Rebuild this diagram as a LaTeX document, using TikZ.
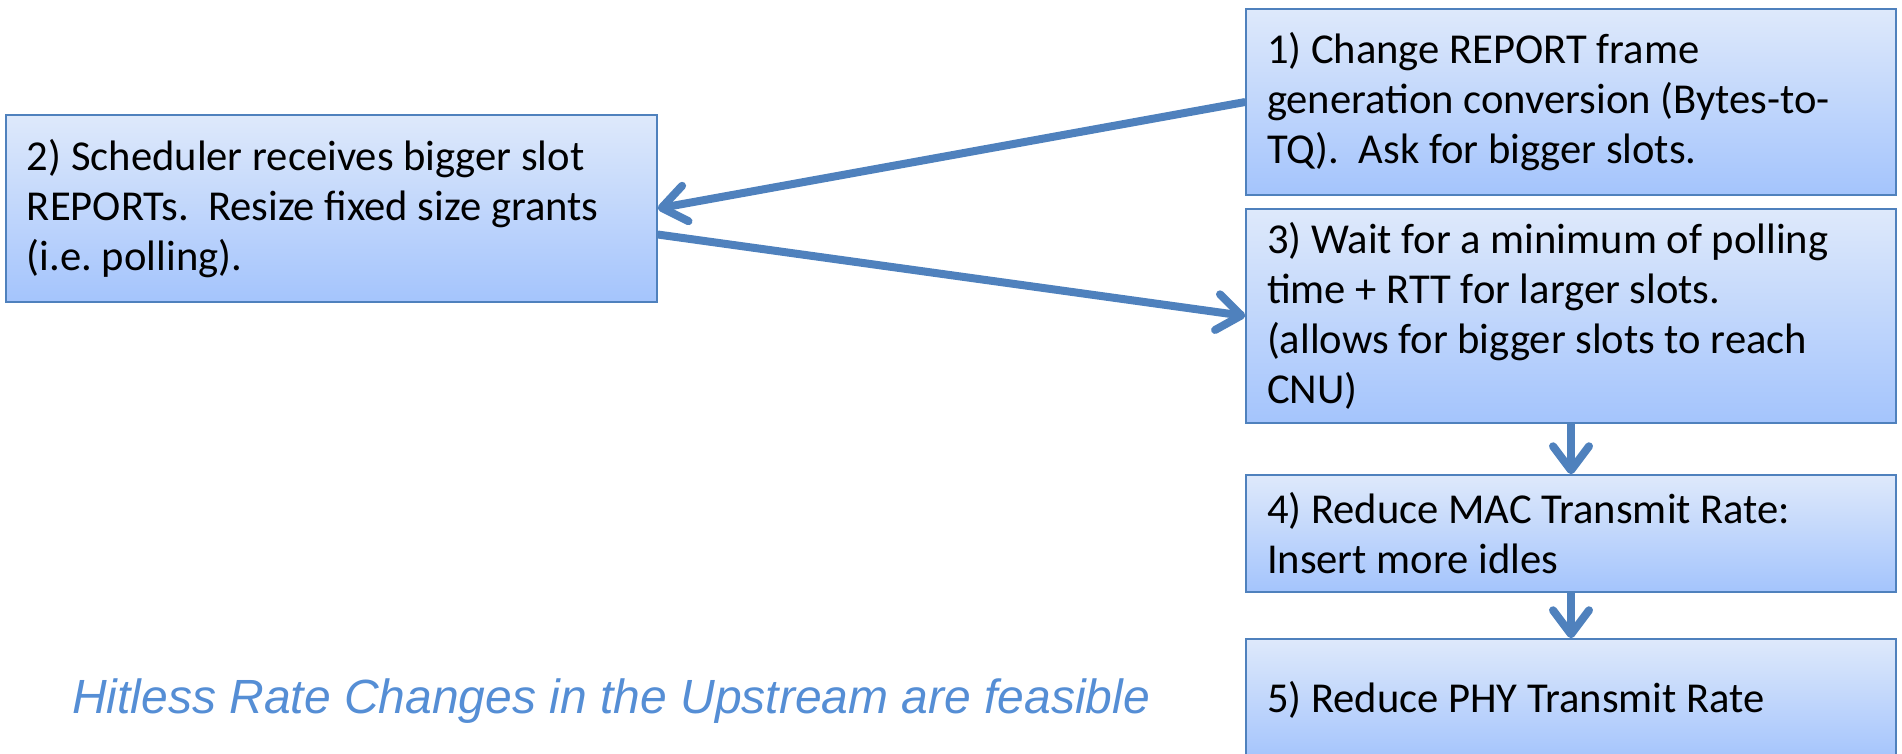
\documentclass[tikz,border=0pt]{standalone}
\usepackage{fontspec}
\setmainfont{Carlito}
\newfontfamily\notefont{Liberation Sans}
\usetikzlibrary{arrows.meta}
\frenchspacing
\definecolor{edgeblue}{RGB}{79,129,189}
\definecolor{filltop}{RGB}{222,233,251}
\definecolor{fillbot}{RGB}{164,196,252}
\definecolor{noteblue}{RGB}{85,142,213}
\tikzset{
  stepbox/.style={draw=edgeblue, line width=1.5pt, top color=filltop, bottom color=fillbot,
    minimum width=650pt, inner xsep=21pt, inner ysep=0pt, text width=608pt, align=flush left,
    font=\fontsize{42.6}{50}\selectfont, anchor=center},
  flow/.style={draw=edgeblue, line width=8pt, -{Straight Barb[length=24pt,width=36pt,round]}}
}
\begin{document}
\begin{tikzpicture}[x=1pt,y=-1pt]
\useasboundingbox (0,0) rectangle (1902,754);

% process steps
\node[stepbox, minimum height=186pt] (s1) at (1571,102)
  {1) Change REPORT frame\\generation conversion (Bytes-to-\\TQ).~~Ask for bigger slots.};
\node[stepbox, minimum width=651pt, text width=609pt, minimum height=187pt] (s2) at (331.5,208.5)
  {2) Scheduler receives bigger slot\\REPORTs.~~Resize fixed size grants\\(i.e. polling).};
\node[stepbox, minimum height=214pt] (s3) at (1571,316)
  {3) Wait for a minimum of polling\\time + RTT for larger slots.\\(allows for bigger slots to reach\\CNU)};
\node[stepbox, minimum height=117pt] (s4) at (1571,533.5)
  {4) Reduce MAC Transmit Rate:\\Insert more idles};
\node[stepbox, minimum height=121pt] (s5) at (1571,699.5)
  {5) Reduce PHY Transmit Rate};

% connectors
\draw[flow] (s1.west) -- (s2.east);
\draw[flow] ([yshift=-26pt]s2.east) -- (s3.west);
\draw[flow] (s3.south) -- (s4.north);
\draw[flow] (s4.south) -- (s5.north);

% summary note
\node[anchor=base west, inner sep=0pt, text=noteblue, font=\notefont\itshape\fontsize{48}{58}\selectfont] (note) at (72,713)
  {Hitless Rate Changes in the Upstream are feasible};
\end{tikzpicture}
\end{document}
